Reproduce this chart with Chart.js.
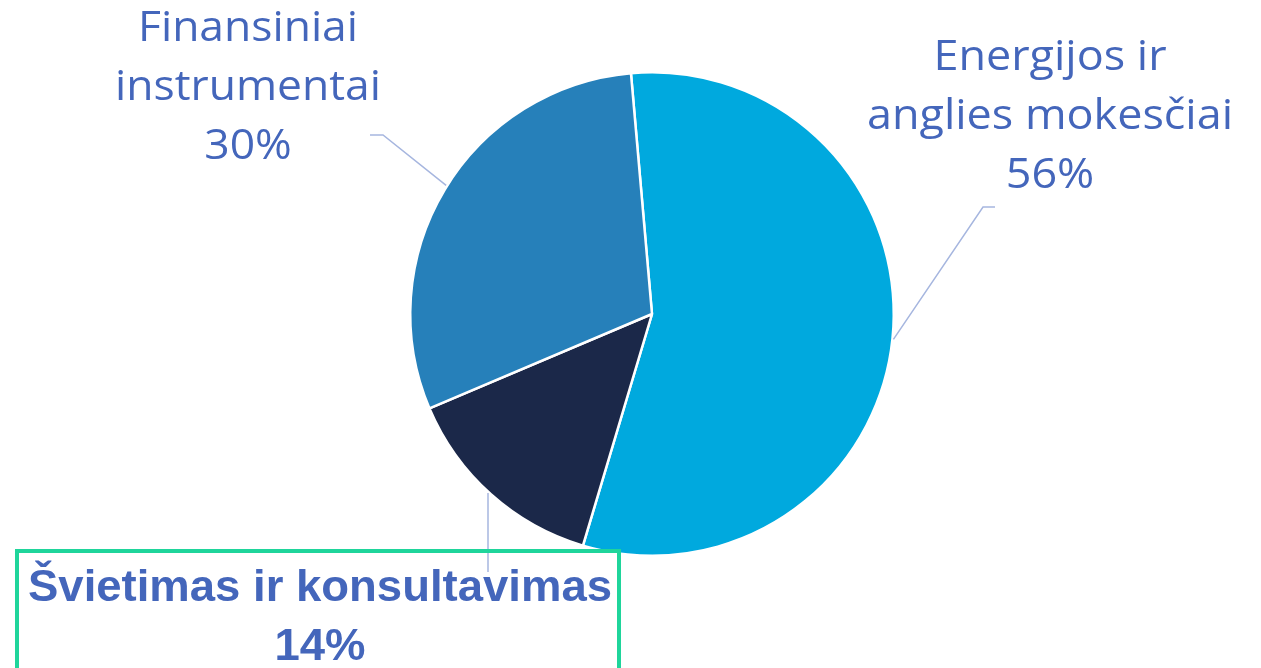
<!DOCTYPE html>
<html>
<head>
<meta charset="utf-8">
<script src="https://cdn.jsdelivr.net/npm/chart.js@4.4.0/dist/chart.umd.min.js"></script>
<style>
  html, body { margin: 0; padding: 0; background: #fff; }
  #wrap { width: 1261px; height: 668px; position: relative; }
</style>
</head>
<body>
<div id="wrap"><canvas id="myChart" width="1261" height="668"></canvas></div>
<script>
// Datos del gráfico
const categorias = ['Energijos ir anglies mokesčiai', 'Švietimas ir konsultavimas', 'Finansiniai instrumentai'];
const porcentajes = [56, 14, 30];
const colores = ['#00A9DE', '#1B2849', '#2680BA'];

// Etiquetas: líneas de texto, posición del texto y ángulo donde la guía toca el pie
const etiquetas = [
    { lines: ['Energijos ir', 'anglies mokesčiai', '56%'], x: 1050, y: 58, bold: false,
      angle: 96, elbow: [983, 207], end: [995, 207], ref: 'anglies mokesčiai', refW: 366 },
    { lines: ['Švietimas ir konsultavimas', '14%'], x: 320, y: 589, bold: true,
      angle: 222.5, elbow: [488, 572], end: [488, 572], ref: 'Švietimas ir konsultavimas', refW: 584 },
    { lines: ['Finansiniai', 'instrumentai', '30%'], x: 248, y: 29, bold: false,
      angle: 302, elbow: [383, 135], end: [370, 135], ref: 'Finansiniai', refW: 220 }
];

const labelPlugin = {
    id: 'labelPlugin',
    afterDraw: (chart) => {
        const ctx = chart.ctx;
        const arc = chart.getDatasetMeta(0).data[0];
        const cx = arc.x, cy = arc.y, r = arc.outerRadius;
        etiquetas.forEach((lab) => {
            // línea guía
            const a = (lab.angle - 90) * Math.PI / 180;
            const px = cx + Math.cos(a) * (r + 1);
            const py = cy + Math.sin(a) * (r + 1);
            ctx.save();
            ctx.strokeStyle = '#A6B6DF';
            ctx.lineWidth = 1.5;
            ctx.beginPath();
            ctx.moveTo(px, py);
            ctx.lineTo(lab.elbow[0], lab.elbow[1]);
            ctx.lineTo(lab.end[0], lab.end[1]);
            ctx.stroke();
            ctx.restore();

            // texto (escalado horizontal para igualar el ancho de la fuente original)
            ctx.save();
            ctx.fillStyle = '#4466BB';
            ctx.textAlign = 'center';
            ctx.textBaseline = 'middle';
            ctx.font = lab.bold ? 'bold 45px "Liberation Sans", Arial, sans-serif'
                                : '42px "Open Sans", sans-serif';
            const sx = lab.refW / ctx.measureText(lab.ref).width;
            const lh = 59;
            ctx.translate(lab.x, lab.y);
            ctx.scale(sx, 1);
            lab.lines.forEach((t, i) => {
                ctx.fillText(t, 0, i * lh);
            });
            ctx.restore();
        });

        // recuadro verde de la etiqueta destacada
        ctx.save();
        ctx.strokeStyle = '#1FD59B';
        ctx.lineWidth = 4;
        ctx.strokeRect(17, 551, 602, 130);
        ctx.restore();
    }
};

const ctx = document.getElementById('myChart').getContext('2d');
new Chart(ctx, {
    type: 'pie',
    data: {
        labels: categorias,
        datasets: [{
            data: porcentajes,
            backgroundColor: colores,
            borderColor: '#ffffff',
            borderWidth: 2.5
        }]
    },
    options: {
        responsive: false,
        animation: false,
        rotation: -5,
        layout: { padding: { left: 409, right: 366, top: 71, bottom: 111 } },
        plugins: {
            legend: { display: false },
            tooltip: { enabled: false }
        }
    },
    plugins: [labelPlugin]
});
</script>
</body>
</html>
